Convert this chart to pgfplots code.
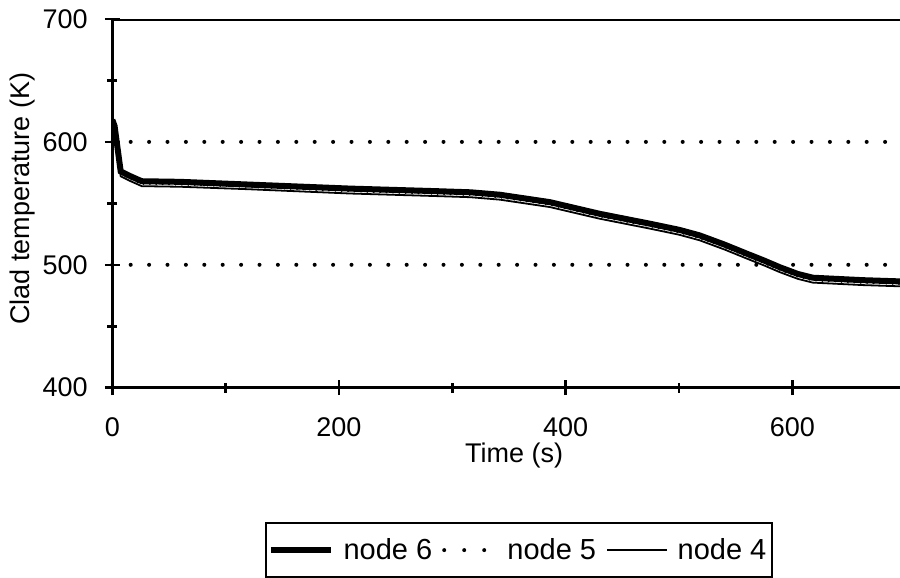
\documentclass[border=0pt]{standalone}
\usepackage{fontspec}
\setmainfont{Liberation Sans}
\usepackage{pgfplots}
\pgfplotsset{compat=1.18}
\pgfplotstableread{
x T
0 618
2 613
7.4 576
15 572.5
26 568
60 567.5
120 565.3
210 562
283 560
316 559
342 557
386 551
430 541.5
474 533.5
500 528.5
518 524
540 516.5
560 509
575 503.5
589 498
605 492.5
618 489.5
640 488.5
662 487.5
695 486.5
}\nodesix
\pgfplotstableread{
x T
0 615.5
2 610.5
7.4 574
15 570.5
26 566
60 565.5
120 563.5
210 560
283 558
316 557
342 555
386 549
430 539.5
474 531.5
500 526.5
518 522
540 514.5
560 507
575 501.5
589 496
605 490.5
618 487.5
640 486.5
662 485.5
695 484.5
}\nodefive
\pgfplotstableread{
x T
0 614
2 609
7.4 572
15 568.5
26 564
60 563.5
120 561.5
210 558
283 556
316 555
342 553
386 547
430 537.5
474 529.5
500 524.5
518 520
540 512.5
560 505
575 499.5
589 494
605 488.5
618 485.5
640 484.5
662 483.5
695 482.5
}\nodefour
\begin{document}
\begin{tikzpicture}
\begin{axis}[
  at={(0,0)}, anchor=south west,
  scale only axis,
  width=393.85pt, height=184.35pt,
  xmin=0, xmax=695, ymin=400, ymax=700,
  axis x line*=bottom, axis y line*=left,
  axis line style={line width=1.5pt},
  xtick={0,200,400,600}, minor xtick={100,300,500},
  ytick={400,500,600,700}, minor ytick={450,550,650},
  tick align=center,
  major tick length=7.5pt, minor tick length=5pt,
  every tick/.style={black, line width=1.3pt},
  tick label style={font=\fontsize{13.5}{15}\selectfont},
  /pgf/number format/assume math mode=true,
  xticklabel style={yshift=-7.5pt},
  yticklabel style={xshift=-5pt},
  xlabel={Time (s)},
  ylabel={Clad temperature (K)},
  label style={font=\fontsize{13.5}{15}\selectfont},
  xlabel style={at={(axis description cs:0.51,-0.1852)}, anchor=center},
  ylabel style={at={(axis description cs:-0.1146,0.512)}, anchor=center, rotate=0},
  extra y ticks={500,600},
  extra y tick labels={},
  extra y tick style={grid=major, major tick length=0pt},
  major grid style={black, line width=2pt, line cap=round, dash pattern=on 0pt off 9.2pt},
  legend columns=3,
  legend style={at={(axis description cs:0.5164,-0.4405)}, anchor=center,
    draw=black, line width=1pt, font=\fontsize{14.5}{16}\selectfont,
    inner xsep=1pt, inner ysep=5.5pt, column sep=3pt,
    /tikz/every even column/.append style={column sep=3pt}},
  legend image code/.code={\draw[#1] (0cm,0cm) -- (1.05cm,0cm);},
  clip=true,
]
\addplot[black, line width=3pt] table[x=x,y=T]{\nodesix};
\addlegendentry{node 6}
\addplot[black, line width=1.3pt, line cap=round, dash pattern=on 0pt off 3.2pt,
  legend image code/.code={\draw[black, line width=2pt, line cap=round, dash pattern=on 0pt off 10pt] (0.15cm,0cm) -- (1.05cm,0cm);}] table[x=x,y=T]{\nodefive};
\addlegendentry{node 5}
\addplot[black, line width=0.9pt] table[x=x,y=T]{\nodefour};
\addlegendentry{node 4}
\draw[line width=1.5pt] (rel axis cs:0,1) -- (rel axis cs:1,1);
\end{axis}
\pgfresetboundingbox
\path (-56.15pt,-95.15pt) rectangle (393.85pt,193.85pt);
\end{tikzpicture}
\end{document}
